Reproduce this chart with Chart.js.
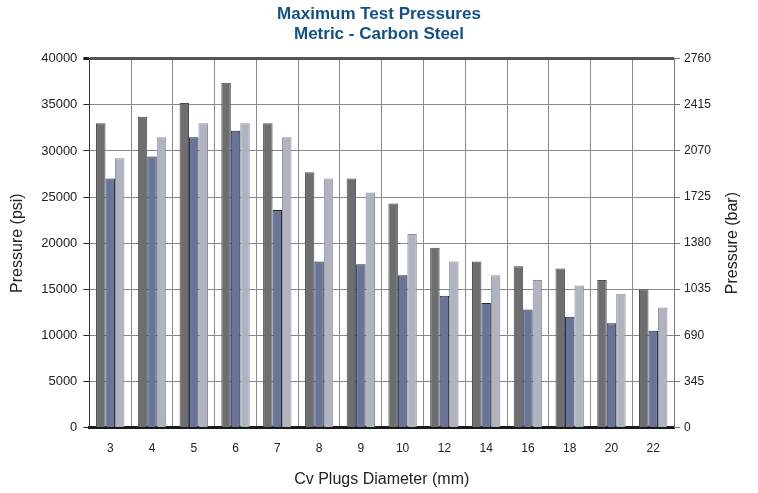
<!DOCTYPE html>
<html>
<head>
<meta charset="utf-8">
<script src="https://cdn.jsdelivr.net/npm/chart.js@4.4.1/dist/chart.umd.min.js"></script>
<style>
  body { margin: 0; background: #fff; }
  #wrap { width: 758px; height: 493px; }
</style>
</head>
<body>
<div id="wrap"><canvas id="myChart" width="758" height="493"></canvas></div>
<script>
// diametros dos plugs (mm)
var diametros = ['3', '4', '5', '6', '7', '8', '9', '10', '12', '14', '16', '18', '20', '22'];
// pressoes em psi
var serieEscura = [33000, 33700, 35200, 37400, 33000, 27700, 27000, 24300, 19500, 18000, 17500, 17250, 16000, 15000];
var serieAzul   = [27000, 29400, 31500, 32200, 23600, 18000, 17700, 16500, 14300, 13500, 12800, 12000, 11300, 10500];
var serieClara  = [29200, 31500, 33000, 33000, 31500, 27000, 25500, 21000, 18000, 16500, 16000, 15400, 14500, 13000];
var ticksBar = [0, 345, 690, 1035, 1380, 1725, 2070, 2415, 2760];

var fonte = "'Liberation Sans', Arial, sans-serif";
var tituloBar = 'Pressure (bar)';

// titulo da direita lido de baixo para cima, como no original
const tituloDireita = {
  id: 'tituloDireita',
  afterDraw(chart) {
    const s = chart.scales.y2;
    const c = chart.ctx;
    c.save();
    c.translate(s.right - 8 - 9.6, (chart.chartArea.top + chart.chartArea.bottom) / 2);
    c.rotate(-Math.PI / 2);
    c.fillStyle = '#222';
    c.font = '16px ' + fonte;
    c.textAlign = 'center';
    c.textBaseline = 'middle';
    c.fillText(tituloBar, 0, 0);
    c.restore();
  }
};

const ctx = document.getElementById('myChart');
new Chart(ctx, {
  type: 'bar',
  data: {
    labels: diametros,
    datasets: [{
      data: serieEscura,
      backgroundColor: '#6d6e70',
      borderColor: '#4a4b4d',
      borderWidth: 1,
      borderSkipped: 'bottom'
    }, {
      data: serieAzul,
      backgroundColor: '#68749a',
      borderColor: '#25262c',
      borderWidth: 1,
      borderSkipped: 'bottom'
    }, {
      data: serieClara,
      backgroundColor: '#b0b3c0',
      borderColor: '#8c8e96',
      borderWidth: 1,
      borderSkipped: 'bottom'
    }]
  },
  options: {
    responsive: false,
    animation: false,
    categoryPercentage: 0.68,
    barPercentage: 1,
    layout: { padding: { left: 8, right: 8, top: 0, bottom: 4 } },
    plugins: {
      legend: { display: false },
      tooltip: { enabled: false },
      title: {
        display: true,
        text: ['Maximum Test Pressures', 'Metric - Carbon Steel'],
        color: '#12508a',
        font: { family: "'Liberation Sans Narrow', 'Liberation Sans', Arial, sans-serif", size: 17, weight: 'bold', lineHeight: 1.2 },
        padding: { top: 4, bottom: 14 }
      }
    },
    scales: {
      x: {
        grid: {
          offset: true,
          color: '#8a8a8a',
          lineWidth: 1,
          drawTicks: false
        },
        border: { color: '#1a1a1a', width: 3 },
        ticks: { color: '#222', font: { family: fonte, size: 12 }, padding: 14 },
        title: {
          display: true,
          text: 'Cv Plugs Diameter (mm)',
          color: '#222',
          font: { family: fonte, size: 16 },
          padding: { top: 0, bottom: 0 }
        }
      },
      y: {
        min: 0,
        max: 40000,
        ticks: {
          stepSize: 5000,
          color: '#222',
          font: { family: fonte, size: 13 },
          padding: 6,
          callback: function(v) { return String(v); }
        },
        grid: {
          color: function(c) { return c.tick && c.tick.value === 40000 ? '#555' : '#8a8a8a'; },
          lineWidth: function(c) { return c.tick && c.tick.value === 40000 ? 3 : 1; },
          tickColor: '#222',
          tickLength: 6
        },
        border: { color: '#333', width: 1 },
        title: {
          display: true,
          text: 'Pressure (psi)',
          color: '#222',
          font: { family: fonte, size: 16 },
          padding: { top: 0, bottom: 8 }
        }
      },
      y2: {
        position: 'right',
        min: 0,
        max: 2760,
        afterBuildTicks: function(axis) {
          axis.ticks = ticksBar.map(function(v) { return { value: v }; });
        },
        ticks: {
          color: '#222',
          font: { family: fonte, size: 12 },
          padding: 4,
          callback: function(v) { return String(v); }
        },
        grid: { drawOnChartArea: false, tickColor: '#777', tickLength: 6 },
        border: { color: '#777', width: 1 },
        title: {
          // espaco reservado, o texto e desenhado pelo plugin
          display: true,
          text: tituloBar,
          color: 'rgba(0,0,0,0)',
          font: { family: fonte, size: 16 },
          padding: { top: 8, bottom: 8 }
        }
      }
    }
  },
  plugins: [tituloDireita]
});
</script>
</body>
</html>
